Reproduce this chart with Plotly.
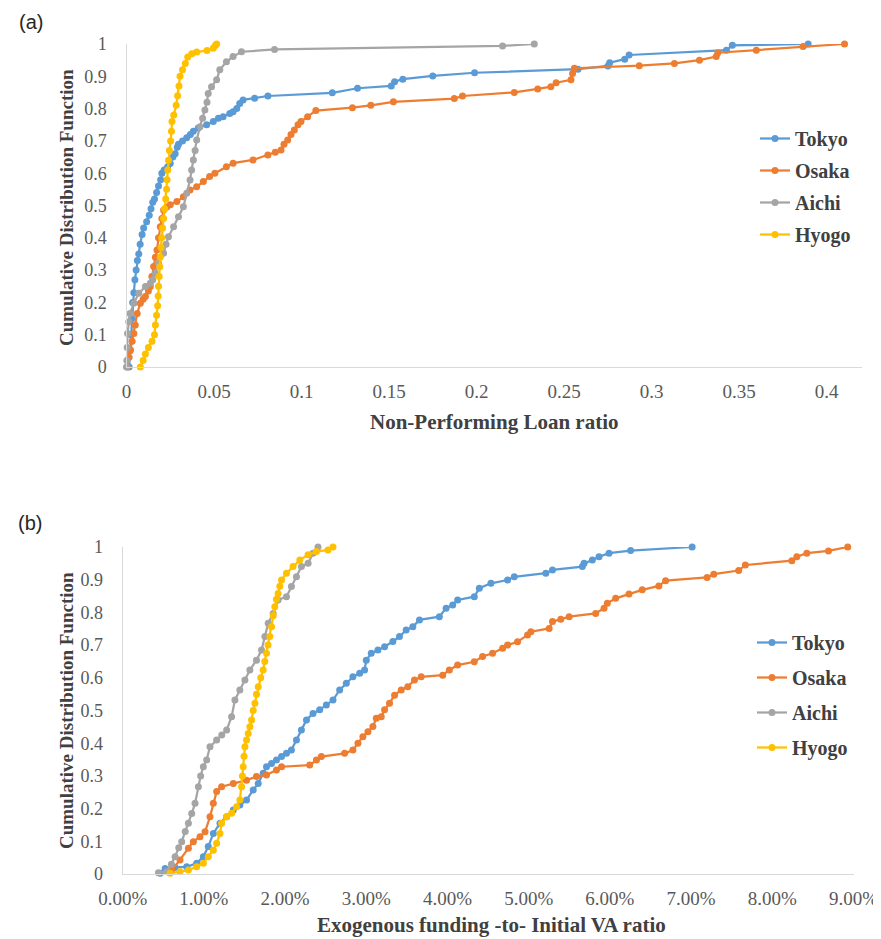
import plotly.graph_objects as go

# ---------------- Panel (a): Non-Performing Loan ratio ----------------
npl_tokyo_x = [0.0015, 0.0020, 0.0025, 0.0030, 0.0035, 0.0042, 0.0048, 0.0055, 0.0062, 0.0070,
               0.0078, 0.0089, 0.0098, 0.0115, 0.0130, 0.0140, 0.0150, 0.0160, 0.0172, 0.0183,
               0.0195, 0.0202, 0.0215, 0.0235, 0.0250, 0.0265, 0.0278, 0.0290, 0.0297, 0.0320,
               0.0344, 0.0365, 0.0382, 0.0410, 0.0458, 0.0496, 0.0525, 0.0552, 0.0590, 0.0609,
               0.0630, 0.0647, 0.0666, 0.0732, 0.0808, 0.1176, 0.1320, 0.1513, 0.1532, 0.1579,
               0.1750, 0.1989, 0.2580, 0.2751, 0.2761, 0.2847, 0.2872, 0.3428, 0.3462, 0.3895]
npl_tokyo_y = [0.000, 0.050, 0.100, 0.150, 0.200, 0.230, 0.270, 0.300, 0.330, 0.350,
               0.380, 0.410, 0.430, 0.450, 0.470, 0.490, 0.510, 0.520, 0.540, 0.560,
               0.580, 0.600, 0.610, 0.620, 0.630, 0.650, 0.660, 0.680, 0.690, 0.700,
               0.710, 0.720, 0.730, 0.740, 0.750, 0.760, 0.770, 0.775, 0.785, 0.790,
               0.800, 0.816, 0.827, 0.832, 0.839, 0.849, 0.863, 0.870, 0.883, 0.891,
               0.901, 0.911, 0.922, 0.932, 0.942, 0.953, 0.966, 0.981, 0.996, 1.000]

npl_osaka_x = [0.0004, 0.0015, 0.0023, 0.0032, 0.0042, 0.0050, 0.0061, 0.0079, 0.0095, 0.0108,
               0.0125, 0.0136, 0.0145, 0.0155, 0.0165, 0.0174, 0.0183, 0.0193, 0.0202, 0.0212,
               0.0230, 0.0250, 0.0288, 0.0325, 0.0363, 0.0401, 0.0439, 0.0475, 0.0505, 0.0571,
               0.0609, 0.0723, 0.0808, 0.0850, 0.0883, 0.0900, 0.0921, 0.0940, 0.0959, 0.0980,
               0.0997, 0.1035, 0.1082, 0.1291, 0.1396, 0.1525, 0.1873, 0.1920, 0.2216, 0.2350,
               0.2425, 0.2455, 0.2540, 0.2549, 0.2559, 0.2930, 0.3131, 0.3274, 0.3370, 0.3379,
               0.3599, 0.3866, 0.4103]
npl_osaka_y = [0.000, 0.030, 0.053, 0.080, 0.104, 0.130, 0.166, 0.197, 0.210, 0.218,
               0.235, 0.249, 0.280, 0.311, 0.340, 0.362, 0.400, 0.434, 0.460, 0.486,
               0.495, 0.502, 0.512, 0.527, 0.548, 0.558, 0.574, 0.590, 0.600, 0.620,
               0.631, 0.641, 0.656, 0.665, 0.672, 0.690, 0.703, 0.720, 0.734, 0.750,
               0.760, 0.775, 0.794, 0.803, 0.810, 0.821, 0.831, 0.839, 0.850, 0.861,
               0.868, 0.880, 0.889, 0.909, 0.925, 0.933, 0.940, 0.950, 0.961, 0.973,
               0.981, 0.992, 1.000]

npl_aichi_x = [0.0000, 0.0002, 0.0004, 0.0006, 0.0013, 0.0020, 0.0042, 0.0070, 0.0108, 0.0136,
               0.0150, 0.0165, 0.0183, 0.0212, 0.0226, 0.0240, 0.0269, 0.0297, 0.0325, 0.0344,
               0.0363, 0.0372, 0.0382, 0.0392, 0.0401, 0.0420, 0.0435, 0.0448, 0.0460, 0.0467,
               0.0486, 0.0515, 0.0533, 0.0571, 0.0609, 0.0657, 0.0846, 0.2149, 0.2330]
npl_aichi_y = [0.000, 0.020, 0.060, 0.104, 0.140, 0.166, 0.197, 0.228, 0.249, 0.259,
               0.270, 0.290, 0.321, 0.352, 0.380, 0.403, 0.434, 0.465, 0.496, 0.538,
               0.579, 0.610, 0.641, 0.670, 0.703, 0.744, 0.770, 0.796, 0.820, 0.847,
               0.868, 0.889, 0.920, 0.945, 0.961, 0.976, 0.983, 0.994, 1.000]

npl_hyogo_x = [0.0079, 0.0095, 0.0108, 0.0125, 0.0146, 0.0160, 0.0165, 0.0172, 0.0178, 0.0181,
               0.0183, 0.0187, 0.0190, 0.0193, 0.0197, 0.0201, 0.0206, 0.0212, 0.0218, 0.0224,
               0.0229, 0.0232, 0.0236, 0.0240, 0.0245, 0.0252, 0.0257, 0.0260, 0.0270, 0.0284,
               0.0292, 0.0300, 0.0306, 0.0320, 0.0336, 0.0350, 0.0373, 0.0401, 0.0460, 0.0496,
               0.0507, 0.0515]
npl_hyogo_y = [0.000, 0.020, 0.040, 0.060, 0.080, 0.100, 0.130, 0.160, 0.190, 0.220,
               0.250, 0.280, 0.310, 0.340, 0.370, 0.400, 0.430, 0.460, 0.490, 0.520,
               0.550, 0.580, 0.610, 0.640, 0.670, 0.700, 0.730, 0.760, 0.780, 0.810,
               0.840, 0.870, 0.900, 0.920, 0.940, 0.960, 0.970, 0.975, 0.980, 0.987,
               0.995, 1.000]

npl_ticks = [0, 0.05, 0.1, 0.15, 0.2, 0.25, 0.3, 0.35, 0.4]
npl_tick_labels = ["0", "0.05", "0.1", "0.15", "0.2", "0.25", "0.3", "0.35", "0.4"]

# ---------------- Panel (b): Exogenous funding -to- Initial VA ratio (in %) ----------------
efr_tokyo_x = [0.461, 0.522, 0.645, 0.788, 0.911, 0.993, 1.054, 1.116, 1.198, 1.280,
               1.362, 1.443, 1.525, 1.607, 1.669, 1.730, 1.771, 1.833, 1.894, 1.956,
               2.017, 2.078, 2.140, 2.201, 2.263, 2.344, 2.426, 2.508, 2.590, 2.672,
               2.754, 2.835, 2.918, 2.979, 3.000, 3.061, 3.143, 3.225, 3.327, 3.409,
               3.491, 3.573, 3.655, 3.900, 3.983, 4.064, 4.125, 4.330, 4.392, 4.535,
               4.740, 4.822, 5.211, 5.293, 5.661, 5.682, 5.784, 5.866, 5.989, 6.255,
               7.013]
efr_tokyo_y = [0.002, 0.017, 0.020, 0.022, 0.033, 0.053, 0.084, 0.124, 0.155, 0.175,
               0.196, 0.211, 0.226, 0.257, 0.277, 0.308, 0.328, 0.338, 0.349, 0.359,
               0.369, 0.379, 0.410, 0.440, 0.471, 0.491, 0.502, 0.517, 0.532, 0.563,
               0.583, 0.603, 0.614, 0.624, 0.654, 0.675, 0.685, 0.695, 0.711, 0.726,
               0.746, 0.756, 0.777, 0.787, 0.813, 0.823, 0.838, 0.848, 0.874, 0.889,
               0.899, 0.909, 0.920, 0.930, 0.940, 0.950, 0.960, 0.970, 0.981, 0.989,
               1.000]

efr_osaka_x = [0.604, 0.706, 0.809, 0.870, 0.952, 1.014, 1.075, 1.116, 1.157, 1.218,
               1.362, 1.525, 1.648, 1.771, 1.894, 1.956, 2.303, 2.386, 2.447, 2.733,
               2.835, 2.897, 2.958, 3.020, 3.081, 3.123, 3.184, 3.225, 3.286, 3.348,
               3.430, 3.511, 3.593, 3.676, 3.941, 4.023, 4.125, 4.330, 4.432, 4.555,
               4.679, 4.740, 4.863, 4.986, 5.027, 5.252, 5.293, 5.395, 5.498, 5.825,
               5.928, 5.968, 6.071, 6.235, 6.398, 6.603, 6.686, 7.197, 7.279, 7.586,
               7.668, 8.241, 8.302, 8.425, 8.692, 8.929]
efr_osaka_y = [0.012, 0.043, 0.079, 0.099, 0.114, 0.129, 0.175, 0.216, 0.252, 0.267,
               0.277, 0.287, 0.298, 0.303, 0.318, 0.328, 0.333, 0.349, 0.359, 0.369,
               0.379, 0.400, 0.420, 0.435, 0.451, 0.476, 0.481, 0.502, 0.522, 0.547,
               0.563, 0.573, 0.593, 0.603, 0.608, 0.624, 0.639, 0.649, 0.665, 0.675,
               0.690, 0.700, 0.710, 0.731, 0.741, 0.751, 0.772, 0.779, 0.787, 0.797,
               0.813, 0.828, 0.843, 0.856, 0.869, 0.881, 0.897, 0.907, 0.917, 0.928,
               0.945, 0.958, 0.970, 0.981, 0.988, 1.000]

efr_aichi_x = [0.440, 0.543, 0.600, 0.645, 0.690, 0.727, 0.770, 0.809, 0.850, 0.891,
               0.932, 0.960, 0.993, 1.034, 1.075, 1.157, 1.220, 1.280, 1.341, 1.382,
               1.443, 1.505, 1.566, 1.648, 1.710, 1.751, 1.792, 1.853, 1.914, 2.017,
               2.078, 2.140, 2.201, 2.283, 2.344, 2.405]
efr_aichi_y = [0.004, 0.007, 0.030, 0.053, 0.080, 0.099, 0.130, 0.155, 0.185, 0.216,
               0.267, 0.300, 0.328, 0.349, 0.389, 0.410, 0.425, 0.440, 0.481, 0.532,
               0.563, 0.593, 0.624, 0.654, 0.685, 0.726, 0.767, 0.797, 0.838, 0.848,
               0.879, 0.909, 0.940, 0.950, 0.981, 1.000]

efr_hyogo_x = [0.584, 0.706, 0.809, 0.911, 0.993, 1.054, 1.116, 1.157, 1.198, 1.218,
               1.280, 1.341, 1.403, 1.443, 1.464, 1.474, 1.484, 1.494, 1.505, 1.525,
               1.546, 1.566, 1.587, 1.607, 1.628, 1.648, 1.669, 1.700, 1.730, 1.750,
               1.771, 1.790, 1.812, 1.833, 1.853, 1.873, 1.893, 1.914, 1.935, 1.956,
               2.017, 2.098, 2.181, 2.283, 2.386, 2.528, 2.590]
efr_hyogo_y = [0.002, 0.007, 0.012, 0.022, 0.033, 0.053, 0.073, 0.094, 0.124, 0.155,
               0.175, 0.186, 0.206, 0.226, 0.267, 0.300, 0.328, 0.360, 0.389, 0.410,
               0.430, 0.450, 0.471, 0.500, 0.522, 0.550, 0.573, 0.600, 0.624, 0.650,
               0.675, 0.700, 0.726, 0.756, 0.790, 0.817, 0.840, 0.858, 0.880, 0.899,
               0.920, 0.940, 0.960, 0.976, 0.986, 0.991, 1.000]

efr_ticks = [0, 1, 2, 3, 4, 5, 6, 7, 8, 9]
efr_tick_labels = ["0.00%", "1.00%", "2.00%", "3.00%", "4.00%", "5.00%", "6.00%", "7.00%", "8.00%", "9.00%"]

cdf_ticks = [0, 0.1, 0.2, 0.3, 0.4, 0.5, 0.6, 0.7, 0.8, 0.9, 1]
cdf_tick_labels = ["0", "0.1", "0.2", "0.3", "0.4", "0.5", "0.6", "0.7", "0.8", "0.9", "1"]

series_names = ["Tokyo", "Osaka", "Aichi", "Hyogo"]
series_colors = ["#5B9BD5", "#ED7D31", "#A5A5A5", "#FFC000"]

panel_a = [(npl_tokyo_x, npl_tokyo_y), (npl_osaka_x, npl_osaka_y),
           (npl_aichi_x, npl_aichi_y), (npl_hyogo_x, npl_hyogo_y)]
panel_b = [(efr_tokyo_x, efr_tokyo_y), (efr_osaka_x, efr_osaka_y),
           (efr_aichi_x, efr_aichi_y), (efr_hyogo_x, efr_hyogo_y)]

# The page body has an 8px margin, so the figure is 8px smaller and every
# layout position below is given in window pixels, shifted by that offset.
OFF = 8
W, H = 881 - OFF, 939 - OFF
SERIF = "Liberation Serif"
TICK_COLOR = "#595959"
TITLE_COLOR = "#404040"

fig = go.Figure()
for (xs, ys), name, col in zip(panel_a, series_names, series_colors):
    fig.add_trace(go.Scatter(x=xs, y=ys, mode="lines+markers", name=name,
                             line=dict(color=col, width=2.25),
                             marker=dict(size=7, color=col),
                             cliponaxis=False, xaxis="x", yaxis="y",
                             legend="legend", legendgroup="a_" + name))
for (xs, ys), name, col in zip(panel_b, series_names, series_colors):
    fig.add_trace(go.Scatter(x=xs, y=ys, mode="lines+markers", name=name,
                             line=dict(color=col, width=2.25),
                             marker=dict(size=7, color=col),
                             cliponaxis=False, xaxis="x2", yaxis="y2",
                             legend="legend2", legendgroup="b_" + name))

xtickfont = dict(family=SERIF, size=19, color=TICK_COLOR)
ytickfont = dict(family=SERIF, size=18, color=TICK_COLOR)
common_axis = dict(showgrid=False, zeroline=False, showline=True, linecolor="#d9d9d9",
                   linewidth=1.3, ticks="", tickmode="array", automargin=False)


def px_x(p):
    return (p - OFF) / W


def px_y(p):
    return 1 - (p - OFF) / H


legend_font = dict(family=SERIF, size=20, color=TITLE_COLOR, weight="bold")

fig.update_layout(
    template="none",
    width=W, height=H, autosize=False,
    margin=dict(l=0, r=0, t=0, b=0, pad=0),
    paper_bgcolor="white", plot_bgcolor="white",
    xaxis=dict(domain=[px_x(126.5), px_x(861.5)], range=[0, 0.42], anchor="y",
               tickvals=npl_ticks, ticktext=npl_tick_labels, ticklabelstandoff=7,
               tickfont=xtickfont, **common_axis),
    yaxis=dict(domain=[px_y(367), px_y(44)], range=[0, 1], anchor="x",
               tickvals=cdf_ticks, ticktext=cdf_tick_labels, ticklabelstandoff=15,
               tickfont=ytickfont, **common_axis),
    xaxis2=dict(domain=[px_x(122.7), px_x(853.5)], range=[0, 9], anchor="y2",
                tickvals=efr_ticks, ticktext=efr_tick_labels, ticklabelstandoff=7,
                tickfont=xtickfont, **common_axis),
    yaxis2=dict(domain=[px_y(874), px_y(547)], range=[0, 1], anchor="x2",
                tickvals=cdf_ticks, ticktext=cdf_tick_labels, ticklabelstandoff=15,
                tickfont=ytickfont, **common_axis),
    legend=dict(x=px_x(755), y=px_y(119), xanchor="left", yanchor="top",
                font=legend_font, bgcolor="rgba(0,0,0,0)", borderwidth=0, tracegroupgap=3),
    legend2=dict(x=px_x(752), y=px_y(623), xanchor="left", yanchor="top",
                 font=legend_font, bgcolor="rgba(0,0,0,0)", borderwidth=0, tracegroupgap=6),
    showlegend=True,
)

title_font = dict(family=SERIF, size=21, color=TITLE_COLOR)
ytitle_font = dict(family=SERIF, size=19, color=TITLE_COLOR)
label_font = dict(family="Liberation Sans", size=20, color="#262626")

annotations = [
    dict(text="(a)", x=px_x(31), y=px_y(22), font=label_font),
    dict(text="(b)", x=px_x(30), y=px_y(523), font=label_font),
    dict(text="<b>Non-Performing Loan ratio</b>", x=px_x(494), y=px_y(422), font=title_font),
    dict(text="<b>Exogenous funding -to- Initial VA ratio</b>", x=px_x(491), y=px_y(925), font=title_font),
    dict(text="<b>Cumulative Distribution Function</b>", x=px_x(66), y=px_y(208), font=ytitle_font, textangle=-90),
    dict(text="<b>Cumulative Distribution Function</b>", x=px_x(66), y=px_y(711), font=ytitle_font, textangle=-90),
]
for a in annotations:
    fig.add_annotation(xref="paper", yref="paper", showarrow=False,
                       xanchor="center", yanchor="middle", **a)

fig.write_html("out.html")
